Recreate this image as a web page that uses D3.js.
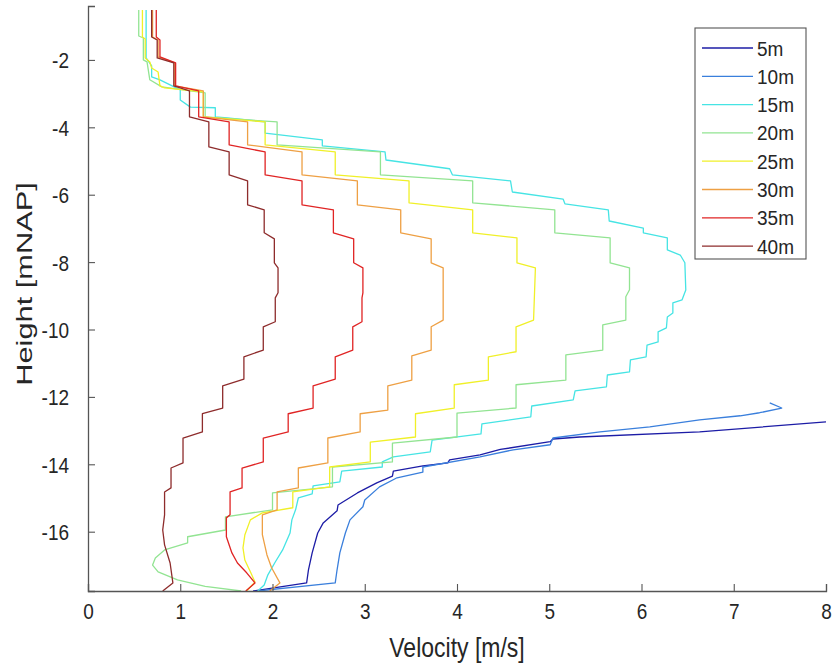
<!DOCTYPE html>
<html>
<head>
<meta charset="utf-8">
<script src="https://cdn.jsdelivr.net/npm/d3@7"></script>
<style>
  html, body { margin: 0; padding: 0; background: #fff; }
  svg text { font-family: "Liberation Sans", Arial, Helvetica, sans-serif; fill: #262626; }
</style>
</head>
<body>
<svg id="chart" width="833" height="666"></svg>
<script>
// Velocity profiles [velocity m/s, height mNAP], top to bottom
const v5m = [[8.00,-12.74],[6.63,-13.04],[5.33,-13.19],[5.04,-13.25],[5.01,-13.33],[4.47,-13.56],[4.25,-13.72],[3.92,-13.87],[3.90,-13.96],[3.63,-14.05],[3.31,-14.20],[3.30,-14.35],[3.13,-14.55],[2.92,-14.85],[2.71,-15.21],[2.70,-15.38],[2.55,-15.74],[2.49,-16.04],[2.43,-16.63],[2.39,-17.13],[2.37,-17.52],[1.79,-17.76]];
const v10m = [[7.39,-12.18],[7.52,-12.33],[7.28,-12.47],[7.07,-12.56],[6.63,-12.68],[6.09,-12.89],[5.55,-13.04],[5.04,-13.22],[5.01,-13.42],[4.61,-13.57],[4.25,-13.78],[3.63,-14.08],[3.63,-14.23],[3.35,-14.40],[3.16,-14.67],[3.00,-15.06],[2.98,-15.26],[2.84,-15.65],[2.79,-16.04],[2.73,-16.63],[2.70,-17.13],[2.68,-17.52],[1.84,-17.76]];
const v15m = [[0.63,-0.52],[0.63,-1.94],[0.69,-2.18],[0.69,-2.50],[0.78,-2.59],[1.00,-2.89],[1.00,-3.19],[1.11,-3.40],[1.38,-3.42],[1.38,-3.69],[1.51,-3.72],[1.92,-3.84],[1.92,-4.17],[2.54,-4.37],[2.54,-4.55],[3.22,-4.73],[3.23,-4.97],[3.92,-5.23],[3.95,-5.41],[4.58,-5.59],[4.60,-5.92],[5.15,-6.13],[5.17,-6.27],[5.64,-6.45],[5.65,-6.78],[6.02,-6.99],[6.02,-7.13],[6.28,-7.28],[6.28,-7.64],[6.42,-7.79],[6.47,-8.02],[6.48,-8.83],[6.44,-9.12],[6.34,-9.21],[6.34,-9.51],[6.28,-9.63],[6.27,-9.95],[6.18,-10.07],[6.18,-10.37],[6.06,-10.46],[6.05,-10.81],[5.88,-10.90],[5.87,-11.26],[5.63,-11.35],[5.62,-11.70],[5.28,-11.82],[5.26,-12.09],[4.81,-12.27],[4.80,-12.59],[4.27,-12.80],[4.26,-13.10],[3.73,-13.28],[3.71,-13.63],[3.31,-13.78],[3.19,-13.93],[3.19,-14.08],[2.75,-14.20],[2.73,-14.52],[2.44,-14.64],[2.43,-14.88],[2.28,-15.00],[2.25,-15.35],[2.21,-15.65],[2.19,-16.04],[2.11,-16.54],[2.03,-16.90],[1.95,-17.28],[1.91,-17.58],[1.84,-17.76]];
const v20m = [[0.55,-0.52],[0.55,-1.29],[0.60,-1.35],[0.60,-2.00],[0.64,-2.06],[0.67,-2.59],[0.80,-2.80],[1.27,-2.98],[1.27,-3.69],[2.05,-3.84],[2.05,-4.52],[3.17,-4.73],[3.17,-5.41],[4.17,-5.59],[4.17,-6.24],[5.06,-6.45],[5.06,-7.13],[5.66,-7.28],[5.66,-8.02],[5.87,-8.17],[5.87,-8.82],[5.83,-9.03],[5.83,-9.72],[5.58,-9.86],[5.58,-10.61],[5.18,-10.75],[5.18,-11.50],[4.64,-11.64],[4.64,-12.33],[4.00,-12.48],[4.00,-13.19],[3.30,-13.37],[3.30,-13.93],[2.65,-14.08],[2.65,-14.67],[2.00,-14.85],[2.00,-15.35],[1.49,-15.56],[1.49,-15.95],[1.08,-16.15],[1.08,-16.33],[0.83,-16.54],[0.73,-16.78],[0.70,-16.99],[0.76,-17.19],[0.97,-17.43],[1.27,-17.62],[1.66,-17.76]];
const v25m = [[0.59,-0.52],[0.59,-1.32],[0.62,-1.38],[0.62,-1.94],[0.67,-2.06],[0.69,-2.24],[0.76,-2.36],[0.78,-2.77],[0.83,-2.83],[1.25,-2.95],[1.25,-3.69],[1.92,-3.84],[1.92,-4.52],[2.68,-4.73],[2.68,-5.41],[3.48,-5.59],[3.48,-6.24],[4.17,-6.45],[4.17,-7.13],[4.65,-7.28],[4.65,-8.02],[4.85,-8.17],[4.83,-9.72],[4.64,-9.92],[4.64,-10.66],[4.34,-10.81],[4.34,-11.50],[3.97,-11.64],[3.97,-12.33],[3.55,-12.50],[3.55,-13.19],[3.06,-13.34],[3.06,-13.93],[2.62,-14.08],[2.62,-14.67],[2.22,-14.82],[2.22,-15.29],[1.89,-15.44],[1.76,-15.65],[1.70,-16.10],[1.68,-16.48],[1.70,-16.84],[1.76,-17.19],[1.81,-17.49],[1.72,-17.76]];
const v30m = [[0.70,-0.52],[0.70,-1.32],[0.76,-1.41],[0.76,-1.91],[0.94,-2.09],[0.94,-2.77],[1.25,-2.92],[1.25,-3.69],[1.73,-3.84],[1.73,-4.52],[2.32,-4.73],[2.32,-5.41],[2.92,-5.59],[2.92,-6.30],[3.39,-6.45],[3.39,-7.13],[3.72,-7.31],[3.72,-8.02],[3.85,-8.17],[3.85,-9.72],[3.72,-9.92],[3.72,-10.61],[3.51,-10.78],[3.51,-11.50],[3.25,-11.67],[3.25,-12.39],[2.95,-12.50],[2.95,-13.04],[2.60,-13.22],[2.60,-13.96],[2.28,-14.11],[2.28,-14.70],[2.05,-14.82],[2.05,-15.35],[1.89,-15.50],[1.89,-16.09],[1.94,-16.69],[1.99,-17.07],[2.08,-17.52],[1.97,-17.76]];
const v35m = [[0.74,-0.52],[0.74,-1.32],[0.78,-1.41],[0.78,-1.91],[0.95,-2.09],[0.95,-2.77],[1.20,-2.92],[1.20,-3.69],[1.53,-3.84],[1.53,-4.52],[1.92,-4.73],[1.92,-5.41],[2.32,-5.59],[2.32,-6.30],[2.66,-6.45],[2.66,-7.13],[2.88,-7.31],[2.88,-8.02],[2.98,-8.17],[2.98,-8.91],[2.97,-9.06],[2.97,-9.77],[2.87,-9.92],[2.87,-10.61],[2.68,-10.81],[2.68,-11.47],[2.44,-11.67],[2.44,-12.33],[2.17,-12.50],[2.17,-13.04],[1.90,-13.22],[1.90,-13.93],[1.67,-14.11],[1.67,-14.70],[1.54,-14.82],[1.54,-15.50],[1.50,-15.59],[1.50,-16.15],[1.56,-16.63],[1.62,-16.93],[1.72,-17.22],[1.81,-17.52],[1.71,-17.76]];
const v40m = [[0.69,-0.52],[0.69,-1.32],[0.75,-1.41],[0.75,-1.94],[0.93,-2.09],[0.93,-2.77],[1.10,-2.92],[1.10,-3.69],[1.31,-3.84],[1.31,-4.58],[1.53,-4.73],[1.53,-5.41],[1.73,-5.59],[1.73,-6.30],[1.91,-6.45],[1.91,-7.13],[2.02,-7.31],[2.02,-8.02],[2.06,-8.17],[2.06,-8.91],[2.03,-9.06],[2.03,-9.77],[1.90,-9.92],[1.90,-10.61],[1.69,-10.81],[1.69,-11.47],[1.46,-11.67],[1.46,-12.33],[1.24,-12.50],[1.24,-13.04],[1.03,-13.22],[1.03,-13.96],[0.90,-14.11],[0.90,-14.70],[0.83,-14.82],[0.83,-15.50],[0.81,-15.95],[0.83,-16.39],[0.89,-16.93],[0.92,-17.52],[0.81,-17.76]];

const seriesNames = ["5m", "10m", "15m", "20m", "25m", "30m", "35m", "40m"];
const seriesValues = [v5m, v10m, v15m, v20m, v25m, v30m, v35m, v40m];
const seriesColors = ["#1c1ca6", "#3a7fdc", "#46e4e4", "#92e492", "#f0f028", "#eea044", "#e02424", "#8e2c2c"];

const xTicks = [0, 1, 2, 3, 4, 5, 6, 7, 8];
const yTicks = [-16, -14, -12, -10, -8, -6, -4, -2];
const xDomain = [0, 8];
const yDomain = [-17.76, -0.4];

const svg = d3.select("#chart");
const margin = { left: 88, right: 7, top: 6, bottom: 75 };
const W = 833, H = 666;
const x = d3.scaleLinear().domain(xDomain).range([margin.left, W - margin.right]);
const y = d3.scaleLinear().domain(yDomain).range([H - margin.bottom, margin.top]);

// glyphs in this figure are drawn a little taller than their natural width
const stretch = 1.2;

svg.append("defs").append("clipPath").attr("id", "plotClip")
  .append("rect")
  .attr("x", x(xDomain[0])).attr("y", y(yDomain[1]))
  .attr("width", x(xDomain[1]) - x(xDomain[0]))
  .attr("height", y(yDomain[0]) - y(yDomain[1]));

// profiles
const line = d3.line().x(d => x(d[0])).y(d => y(d[1]));
const plot = svg.append("g").attr("clip-path", "url(#plotClip)");
seriesValues.forEach((vals, i) => {
  plot.append("path")
    .datum(vals)
    .attr("d", line)
    .attr("fill", "none")
    .attr("stroke", seriesColors[i])
    .attr("stroke-width", 1.3)
    .attr("stroke-linejoin", "round");
});

// axes with inward ticks
const axisColor = "#555";
const xAxis = d3.axisBottom(x).tickValues(xTicks).tickSize(-7).tickFormat(d3.format("d"));
const yAxis = d3.axisLeft(y).tickValues(yTicks).tickSize(-7).tickFormat(d => String(d).replace("\u2212", "-"));

const gx = svg.append("g").attr("transform", `translate(0,${y(yDomain[0])})`).call(xAxis);
const gy = svg.append("g").attr("transform", `translate(${x(xDomain[0])},0)`).call(yAxis);
[gx, gy].forEach(g => {
  g.select(".domain").attr("stroke", axisColor).attr("stroke-width", 1.3);
  g.selectAll(".tick line").attr("stroke", axisColor).attr("stroke-width", 1.1);
  g.selectAll(".tick text").attr("font-size", 19).attr("fill", "#262626")
    .attr("font-family", "'Liberation Sans', Arial, sans-serif");
});
gx.selectAll(".tick text")
  .attr("x", 0).attr("y", 0).attr("dy", null)
  .attr("transform", `translate(0,28) scale(1,${stretch})`);
gy.selectAll(".tick text")
  .attr("x", 0).attr("y", 0).attr("dy", null)
  .attr("transform", `translate(-19,8) scale(1,${stretch})`);

// axis titles
svg.append("text")
  .attr("transform", `translate(${(x(0) + x(8)) / 2},657) scale(1,${stretch})`)
  .attr("text-anchor", "middle")
  .attr("font-size", 23)
  .text("Velocity [m/s]");
svg.append("text")
  .attr("transform", `translate(32,284) rotate(-90) scale(1.4,1)`)
  .attr("text-anchor", "middle")
  .attr("font-size", 22)
  .text("Height [mNAP]");

// legend
const lg = svg.append("g");
const lgX = 695, lgY = 28, lgW = 111, lgH = 231, rowH = 28.3;
lg.append("rect").attr("x", lgX).attr("y", lgY).attr("width", lgW).attr("height", lgH)
  .attr("fill", "#fff").attr("stroke", "#555").attr("stroke-width", 1.1);
seriesNames.forEach((name, i) => {
  const cy = lgY + 20 + i * rowH;
  lg.append("line").attr("x1", lgX + 7).attr("x2", lgX + 58).attr("y1", cy).attr("y2", cy)
    .attr("stroke", seriesColors[i]).attr("stroke-width", 1.3);
  lg.append("text")
    .attr("transform", `translate(${lgX + 62},${cy + 7.5}) scale(1,1.1)`)
    .attr("font-size", 19).text(name);
});
</script>
</body>
</html>
